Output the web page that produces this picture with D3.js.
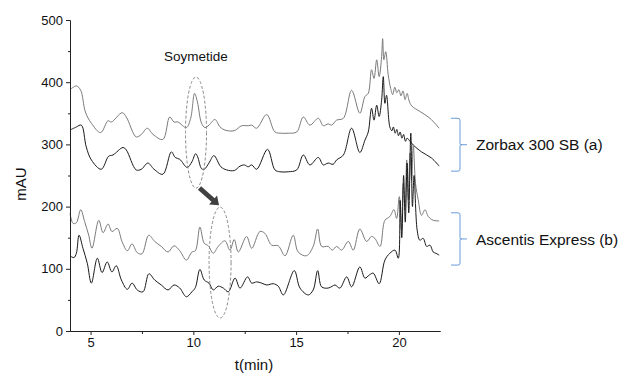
<!DOCTYPE html>
<html>
<head>
<meta charset="utf-8">
<script src="https://cdn.jsdelivr.net/npm/d3@7"></script>
<style>
  body { margin: 0; background: #fff; }
  text { font-family: "Liberation Sans", Arial, sans-serif; fill: #111; }
</style>
</head>
<body>
<div class="chart"></div>
<script>
var width = 619;
var height = 375;

// x ticks / y ticks
var xTicks = [5, 10, 15, 20];
var xMinorTicks = [7.5, 12.5, 17.5];
var yTicks = [0, 100, 200, 300, 400, 500];
var yMinorTicks = [50, 150, 250, 350, 450];

// Zorbax 300 SB (a), upper gray trace  [t(min), mAU]
var zorbaxGray = [[4.0,388],[4.31,394],[4.52,387],[4.75,352],[5.04,334],[5.49,319],[5.85,338],[6.01,336],[6.54,351],[6.74,344],[7.22,312],[7.47,316],[7.76,326],[8.04,316],[8.52,308],[8.85,344],[9.06,336],[9.25,336],[9.66,327],[9.87,342],[10.06,382],[10.2,368],[10.4,334],[10.57,327],[10.76,331],[11.05,340],[11.3,328],[11.54,323],[11.99,322],[12.35,330],[12.67,330],[12.84,331],[13.08,326],[13.57,348],[13.97,320],[14.3,318],[14.62,318],[15.03,320],[15.35,344],[15.67,331],[16.08,342],[16.32,330],[16.56,333],[16.73,331],[16.97,339],[17.3,342],[17.7,387],[18.1,350],[18.35,377],[18.51,382],[18.67,420],[18.79,406],[18.92,436],[19.04,409],[19.16,441],[19.21,470],[19.27,436],[19.36,449],[19.48,412],[19.6,390],[19.7,380],[19.8,392],[19.9,383],[20.0,388],[20.1,378],[20.2,386],[20.3,372],[20.4,382],[20.5,370],[20.62,362],[21.02,353],[21.51,342],[21.96,326]];

// Zorbax 300 SB (a), lower black trace
var zorbaxBlack = [[4.0,323],[4.31,328],[4.55,331],[4.79,296],[5.04,275],[5.52,260],[5.88,281],[6.09,283],[6.58,295],[6.74,291],[7.22,259],[7.47,260],[7.79,270],[8.09,260],[8.52,252],[8.93,288],[9.12,279],[9.34,276],[9.7,263],[9.93,272],[10.11,285],[10.21,280],[10.4,261],[10.53,260],[10.76,270],[11.0,282],[11.34,264],[11.62,259],[11.99,258],[12.27,265],[12.48,267],[12.67,264],[12.84,267],[13.08,260],[13.61,292],[13.97,259],[14.21,256],[14.62,256],[15.03,259],[15.35,283],[15.67,267],[16.08,279],[16.32,267],[16.56,270],[16.8,268],[16.97,275],[17.3,283],[17.7,326],[18.1,287],[18.35,307],[18.51,320],[18.67,358],[18.79,339],[18.92,363],[19.04,345],[19.16,371],[19.24,409],[19.32,366],[19.4,379],[19.56,328],[19.66,322],[19.73,328],[19.82,318],[19.9,324],[19.98,314],[20.06,320],[20.15,310],[20.23,316],[20.32,305],[20.4,310],[20.54,305],[20.7,299],[21.1,288],[21.59,278],[21.96,265]];

// Ascentis Express (b), upper gray trace
var ascentisGray = [[4.0,189],[4.15,173],[4.31,174],[4.52,195],[4.71,176],[4.91,154],[5.07,133],[5.4,178],[5.61,158],[5.85,172],[6.04,160],[6.3,165],[6.53,144],[6.79,129],[7.02,140],[7.27,126],[7.5,124],[7.83,154],[8.12,144],[8.44,136],[8.77,127],[9.06,137],[9.34,129],[9.66,114],[9.93,127],[10.1,129],[10.32,167],[10.53,141],[10.73,137],[10.97,125],[11.21,136],[11.54,145],[11.78,130],[11.99,147],[12.19,127],[12.59,152],[12.84,133],[13.24,160],[13.48,157],[13.81,138],[14.13,137],[14.46,121],[14.86,154],[15.1,127],[15.51,121],[15.83,136],[16.05,164],[16.24,136],[16.56,136],[16.76,130],[16.97,136],[17.21,130],[17.54,144],[17.78,130],[18.1,164],[18.43,144],[18.67,152],[18.83,149],[19.08,136],[19.32,178],[19.56,184],[19.76,195],[19.89,181],[20.02,216],[20.13,162],[20.21,237],[20.3,195],[20.38,275],[20.46,211],[20.54,286],[20.62,243],[20.7,299],[20.81,237],[20.94,211],[21.1,186],[21.27,195],[21.43,184],[21.67,178],[21.96,177]];

// Ascentis Express (b), lower black trace
var ascentisBlack = [[4.0,121],[4.19,118],[4.31,125],[4.44,154],[4.63,133],[4.84,109],[5.04,77],[5.33,117],[5.56,94],[5.81,111],[6.04,95],[6.25,105],[6.5,82],[6.79,67],[7.02,77],[7.27,66],[7.55,63],[7.84,92],[8.12,82],[8.44,74],[8.77,66],[9.06,74],[9.34,69],[9.66,55],[9.93,63],[10.1,70],[10.32,99],[10.53,82],[10.76,77],[10.97,66],[11.21,72],[11.46,69],[11.7,63],[12.03,85],[12.27,69],[12.64,87],[12.84,77],[13.08,79],[13.32,77],[13.57,74],[13.89,76],[14.13,72],[14.38,58],[14.91,97],[15.19,69],[15.59,58],[15.83,66],[16.05,97],[16.24,71],[16.56,69],[16.76,72],[16.89,74],[17.13,69],[17.46,87],[17.7,71],[18.1,103],[18.35,85],[18.56,90],[18.75,93],[19.04,76],[19.32,114],[19.56,125],[19.81,130],[19.97,117],[20.06,210],[20.14,150],[20.23,250],[20.31,175],[20.4,270],[20.48,190],[20.58,318],[20.66,200],[20.74,250],[20.89,162],[21.02,146],[21.18,149],[21.35,136],[21.51,138],[21.67,127],[21.8,125],[21.96,122]];

var series = [
  {data: zorbaxGray, color: "#7a7a7a"},
  {data: zorbaxBlack, color: "#1a1a1a"},
  {data: ascentisGray, color: "#7a7a7a"},
  {data: ascentisBlack, color: "#1a1a1a"}
];

var groups = [
  {label: "Zorbax 300 SB (a)", top: 342, bottom: 257},
  {label: "Ascentis Express (b)", top: 190, bottom: 106}
];

var svg = d3.select(".chart").append("svg")
  .attr("width", width)
  .attr("height", height);

var x = d3.scaleLinear().domain([4, 22]).range([70, 440]);
var y = d3.scaleLinear().domain([0, 500]).range([331, 20]);

var line = d3.line()
  .x(function(d) { return x(d[0]); })
  .y(function(d) { return y(d[1]); })
  .curve(d3.curveCatmullRom.alpha(0.5));

svg.selectAll(".trace")
  .data(series)
  .enter().append("path")
    .attr("class", "trace")
    .attr("fill", "none")
    .attr("stroke", function(d) { return d.color; })
    .attr("stroke-width", 1)
    .attr("d", function(d) { return line(d.data); });

// axes
var xAxis = svg.append("g")
  .attr("transform", "translate(0," + y(0) + ")")
  .call(d3.axisBottom(x).tickValues(xTicks).tickSize(4).tickSizeOuter(0));
xAxis.append("g")
  .call(d3.axisBottom(x).tickValues(xMinorTicks).tickSize(3).tickFormat("").tickSizeOuter(0));

var yAxis = svg.append("g")
  .attr("transform", "translate(" + x(4) + ",0)")
  .call(d3.axisLeft(y).tickValues(yTicks).tickSize(4).tickSizeOuter(0));
yAxis.append("g")
  .call(d3.axisLeft(y).tickValues(yMinorTicks).tickSize(2).tickFormat("").tickSizeOuter(0));

svg.selectAll(".domain").attr("stroke", "#222");
svg.selectAll(".tick line").attr("stroke", "#222");
svg.selectAll(".tick text")
  .style("font-family", "Liberation Sans, Arial, sans-serif")
  .style("font-size", "13px")
  .attr("fill", "#111");

svg.append("text")
  .attr("x", 254)
  .attr("y", 370)
  .attr("text-anchor", "middle")
  .style("font-size", "15px")
  .text("t(min)");

svg.append("text")
  .attr("transform", "translate(26,184) rotate(-90)")
  .attr("text-anchor", "middle")
  .style("font-size", "15px")
  .text("mAU");

// soymetide annotation
svg.append("text")
  .attr("x", x(10.13))
  .attr("y", 61)
  .attr("text-anchor", "middle")
  .style("font-size", "13.5px")
  .text("Soymetide");

var ellipses = [
  {t: 10.13, v: 319, rx: 10.5},
  {t: 11.3, v: 110, rx: 11}
];
svg.selectAll(".mark")
  .data(ellipses)
  .enter().append("ellipse")
    .attr("cx", function(d) { return x(d.t); })
    .attr("cy", function(d) { return y(d.v); })
    .attr("rx", function(d) { return d.rx; })
    .attr("ry", 55.5)
    .attr("fill", "none")
    .attr("stroke", "#8a8a8a")
    .attr("stroke-width", 1)
    .attr("stroke-dasharray", "3,2");

// arrow
var ax0 = x(10.3), ay0 = y(230), ax1 = x(11.25), ay1 = y(202);
var ang = Math.atan2(ay1 - ay0, ax1 - ax0);
var len = Math.hypot(ax1 - ax0, ay1 - ay0);
var arrow = svg.append("g")
  .attr("transform", "translate(" + ax0 + "," + ay0 + ") rotate(" + (ang * 180 / Math.PI) + ")");
arrow.append("path")
  .attr("d", "M0,-2.4L" + (len - 8) + ",-2.4L" + (len - 8) + ",-6L" + len + ",0L" + (len - 8) + ",6L" + (len - 8) + ",2.4L0,2.4Z")
  .attr("fill", "#404040");

// brackets
var bx = 451;
var bracket = svg.selectAll(".bracket")
  .data(groups)
  .enter().append("g")
    .attr("class", "bracket");

bracket.append("path")
  .attr("fill", "none")
  .attr("stroke", "#6a9bd8")
  .attr("stroke-width", 1)
  .attr("d", function(d) {
    var t = y(d.top), b = y(d.bottom), m = (t + b) / 2;
    return "M" + bx + "," + t + "L" + (bx + 7) + "," + t +
      "Q" + (bx + 9) + "," + t + " " + (bx + 9) + "," + (t + 2) +
      "L" + (bx + 9) + "," + (m - 1) + "Q" + (bx + 9) + "," + m + " " + (bx + 11) + "," + m +
      "L" + (bx + 16) + "," + m + "M" + (bx + 11) + "," + m +
      "Q" + (bx + 9) + "," + m + " " + (bx + 9) + "," + (m + 1) +
      "L" + (bx + 9) + "," + (b - 2) + "Q" + (bx + 9) + "," + b + " " + (bx + 7) + "," + b +
      "L" + bx + "," + b;
  });

bracket.append("text")
  .attr("x", 476)
  .attr("y", function(d) { return (y(d.top) + y(d.bottom)) / 2; })
  .attr("dy", "0.36em")
  .style("font-size", "15.5px")
  .text(function(d) { return d.label; });
</script>
</body>
</html>
